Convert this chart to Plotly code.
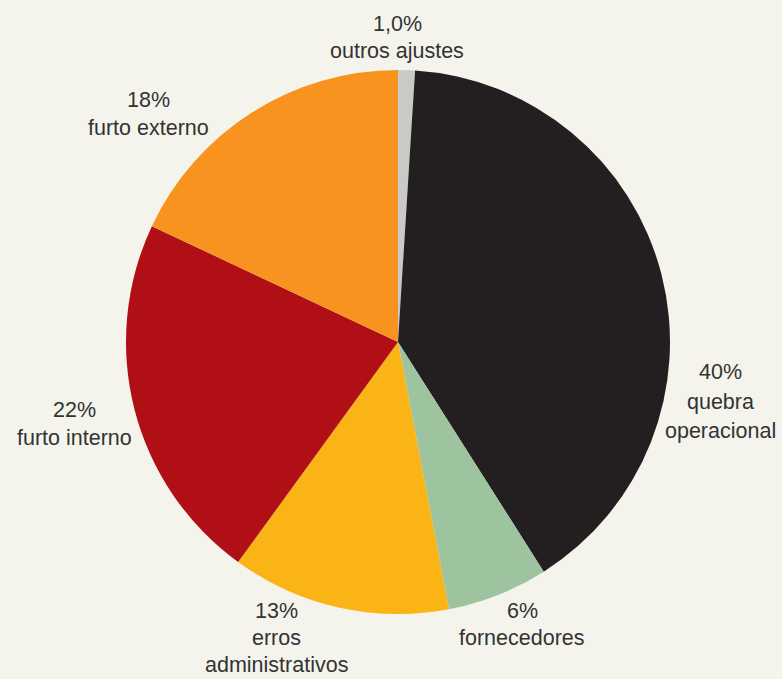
import plotly.graph_objects as go

categories = ["outros ajustes", "quebra operacional", "fornecedores",
              "erros administrativos", "furto interno", "furto externo"]
values = [1.0, 40, 6, 13, 22, 18]
pct_labels = ["1,0%", "40%", "6%", "13%", "22%", "18%"]
label_lines = [["outros ajustes"], ["quebra", "operacional"], ["fornecedores"],
               ["erros", "administrativos"], ["furto interno"], ["furto externo"]]
colors = ["#c9c9c6", "#231f20", "#9dc49e", "#fbb416", "#b00f15", "#f7931e"]

# label anchor (x center, y of first line) in pixels from top-left, and line step
label_pos = [(397, 24), (720, 372), (522, 611), (276, 611), (74, 410), (148, 100)]
line_steps = [27, 29.5, 27, 27, 28, 28]

W, H = 782, 679
cx, cy, r = 398, 342, 272

fig = go.Figure(go.Pie(
    labels=categories,
    values=values,
    sort=False,
    direction="clockwise",
    rotation=0,
    marker=dict(colors=colors, line=dict(width=0)),
    textinfo="none",
    hoverinfo="label+percent",
    showlegend=False,
    domain=dict(x=[(cx - r) / W, (cx + r) / W], y=[(H - cy - r) / H, (H - cy + r) / H]),
))

font = dict(family="Liberation Sans, Arial, sans-serif", size=21.5, color="#333333")
for p, lines, (x, y), step in zip(pct_labels, label_lines, label_pos, line_steps):
    for i, t in enumerate([p] + lines):
        fig.add_annotation(
            x=x / W, y=1 - (y + i * step) / H, xref="paper", yref="paper",
            text=t, showarrow=False, align="center",
            xanchor="center", yanchor="middle", font=font,
        )

fig.update_layout(
    width=W, height=H,
    margin=dict(l=0, r=0, t=0, b=0),
    paper_bgcolor="#f4f4ec",
    plot_bgcolor="#f4f4ec",
)

fig.write_html("out.html")
